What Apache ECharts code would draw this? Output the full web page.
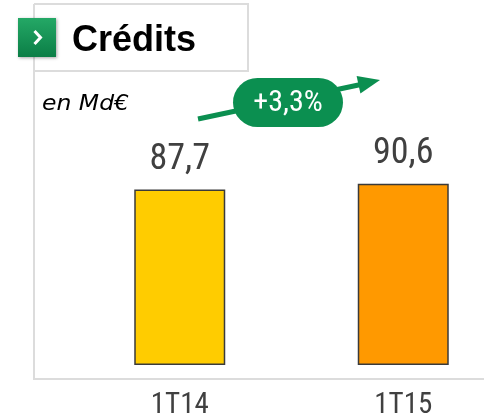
<!DOCTYPE html>
<html>
<head>
<meta charset="utf-8">
<script src="https://cdn.jsdelivr.net/npm/echarts@6/dist/echarts.min.js"></script>
<style>html,body{margin:0;padding:0;background:#fff}#c{width:484px;height:415px}</style>
</head>
<body>
<div id="c"></div>
<script>
var categories = ['1T14', '1T15'];
var values = [87.7, 90.6];
var barColors = ['#FFCC00', '#FF9900'];
var titleText = 'Crédits';
var unitText = 'en Md€';

var NARROW = "'Liberation Sans Narrow', 'Arial Narrow', 'Roboto Condensed', 'DejaVu Sans Condensed', sans-serif";
var ARIAL = "'Liberation Sans', Arial, sans-serif";
var green = '#0B8F50';
var lineGray = '#DCDCDC';

var growth = ((values[1] / values[0] - 1) * 100).toFixed(1).replace('.', ',');
var growthText = '+' + growth + '%';

function fmt(v) { return String(v).replace('.', ','); }

var chart = echarts.init(document.getElementById('c'), null, {renderer: 'canvas'});
chart.setOption({
  animation: false,
  grid: {left: 68, top: 165, width: 447, height: 200, outerBoundsMode: 'none', containLabel: false},
  xAxis: {
    type: 'category',
    data: categories,
    axisLine: {show: false},
    axisTick: {show: false},
    axisLabel: {fontFamily: NARROW, fontSize: 29, color: '#404040', margin: 26}
  },
  yAxis: {
    type: 'value', min: 0, max: 100,
    show: false
  },
  series: [{
    type: 'bar',
    barWidth: 91,
    data: values.map(function (v, i) {
      return {value: v, itemStyle: {color: barColors[i]}};
    }),
    itemStyle: {borderColor: '#3a3a3a', borderWidth: 1.5},
    label: {
      show: true, position: 'top', distance: 12,
      fontFamily: NARROW, fontSize: 36, color: '#404040',
      formatter: function (p) { return fmt(p.value); }
    }
  }],
  graphic: [
    {type: 'polyline', shape: {points: [[34, 4], [248, 4], [248, 71], [34, 71]]}, style: {stroke: lineGray, lineWidth: 2, fill: null}, z: 1},
    {type: 'polyline', shape: {points: [[34, 4], [34, 379], [484, 379]]}, style: {stroke: lineGray, lineWidth: 2, fill: null}, z: 1},
    {type: 'rect', shape: {x: 18, y: 18, width: 38, height: 39},
     style: {fill: new echarts.graphic.LinearGradient(0, 0, 0, 1, [{offset: 0, color: '#24A866'}, {offset: 1, color: '#0B7E46'}]),
             shadowBlur: 3, shadowColor: 'rgba(0,0,0,0.35)', shadowOffsetX: 1, shadowOffsetY: 1}, z: 5},
    {type: 'polyline', shape: {points: [[34.5, 31], [40.5, 37.5], [34.5, 44]]}, style: {stroke: '#fff', lineWidth: 3, fill: null}, z: 6},
    {type: 'text', x: 72, y: 41.5, style: {text: titleText, font: 'bold 36px ' + ARIAL, fill: '#000', verticalAlign: 'middle'}, z: 5},
    {type: 'text', x: 42, y: 104.5, scaleX: 1.12, style: {text: unitText, font: "italic 21px 'DejaVu Sans', sans-serif", fill: '#000', verticalAlign: 'middle'}, z: 5},
    {type: 'line', shape: {x1: 198, y1: 119, x2: 362, y2: 84.3}, style: {stroke: green, lineWidth: 5}, z: 5},
    {type: 'polygon', shape: {points: [[380, 80], [356.6, 75.9], [360.4, 93.5]]}, style: {fill: green}, z: 5},
    {type: 'rect', shape: {x: 233, y: 78, width: 110, height: 49, r: 24.5}, style: {fill: green}, z: 6},
    {type: 'text', x: 288, y: 103, style: {text: growthText, font: '30px ' + NARROW, fill: '#fff', align: 'center', verticalAlign: 'middle'}, z: 7}
  ]
});
</script>
</body>
</html>
